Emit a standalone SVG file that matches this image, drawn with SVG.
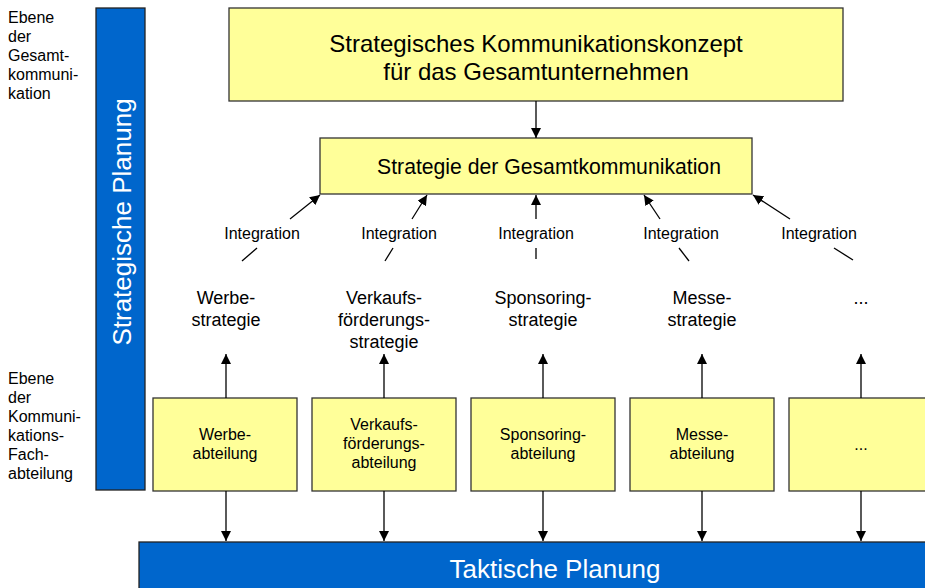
<svg xmlns="http://www.w3.org/2000/svg" width="925" height="588" viewBox="0 0 925 588">
<defs>
<style>
text{font-family:"Liberation Sans",Arial,sans-serif;fill:#000}
.y{fill:#FFFF99;stroke:#333;stroke-width:1.3}
.b{fill:#0066CC;stroke:#222;stroke-width:1.3}
.c{stroke:#000;stroke-width:1.3;fill:none}
.ca{stroke:#000;stroke-width:1.3;fill:none;marker-end:url(#ah)}
.lbl{font-size:16px}
.int{font-size:16px;text-anchor:middle}
.st{font-size:18px;text-anchor:middle}
.dp{font-size:16px;text-anchor:middle}
.w{fill:#fff;font-size:26px;text-anchor:middle}
</style>
<marker id="ah" viewBox="0 0 10 10" refX="10" refY="5" markerWidth="10" markerHeight="10" markerUnits="userSpaceOnUse" orient="auto">
<path d="M0,0 L10,5 L0,10 z" fill="#000"/>
</marker>
</defs>
<rect width="925" height="588" fill="#fff"/>

<g id="label-gesamt">
<text class="lbl" x="8" y="23">Ebene</text>
<text class="lbl" x="8" y="42">der</text>
<text class="lbl" x="8" y="61">Gesamt-</text>
<text class="lbl" x="8" y="80">kommuni-</text>
<text class="lbl" x="8" y="99">kation</text>
</g>
<g id="label-fach">
<text class="lbl" x="8" y="384">Ebene</text>
<text class="lbl" x="8" y="403">der</text>
<text class="lbl" x="8" y="422">Kommuni-</text>
<text class="lbl" x="8" y="441">kations-</text>
<text class="lbl" x="8" y="460">Fach-</text>
<text class="lbl" x="8" y="479">abteilung</text>
</g>

<g id="strategische-planung">
<rect class="b" x="96" y="8" width="49" height="482"/>
<text class="w" transform="translate(131,222) rotate(-90)">Strategische Planung</text>
</g>

<g id="taktische-planung">
<rect class="b" x="139" y="542" width="800" height="60"/>
<text class="w" x="555" y="578">Taktische Planung</text>
</g>

<g id="konzept">
<rect class="y" x="229" y="8" width="614" height="93"/>
<text x="536" y="52" font-size="24" text-anchor="middle">Strategisches Kommunikationskonzept</text>
<text x="536" y="80" font-size="24" text-anchor="middle">für das Gesamtunternehmen</text>
</g>

<g id="gesamtstrategie">
<rect class="y" x="320" y="138" width="432" height="56"/>
<text x="549" y="174" font-size="21.2" text-anchor="middle">Strategie der Gesamtkommunikation</text>
</g>

<g id="integration-labels">
<text class="int" x="262" y="239">Integration</text>
<text class="int" x="399" y="239">Integration</text>
<text class="int" x="536" y="239">Integration</text>
<text class="int" x="681" y="239">Integration</text>
<text class="int" x="819" y="239">Integration</text>
</g>

<g id="strategie-werbe"><text class="st" x="226" y="304">Werbe-</text><text class="st" x="226" y="326">strategie</text></g>
<g id="strategie-vkf"><text class="st" x="384" y="304">Verkaufs-</text><text class="st" x="384" y="326">förderungs-</text><text class="st" x="384" y="348">strategie</text></g>
<g id="strategie-sponsoring"><text class="st" x="543" y="304">Sponsoring-</text><text class="st" x="543" y="326">strategie</text></g>
<g id="strategie-messe"><text class="st" x="702" y="304">Messe-</text><text class="st" x="702" y="326">strategie</text></g>
<g id="strategie-etc"><text class="st" x="861" y="304">...</text></g>

<g id="abt-werbe"><rect class="y" x="153" y="398" width="144" height="93"/><text class="dp" x="225" y="440">Werbe-</text><text class="dp" x="225" y="459">abteilung</text></g>
<g id="abt-vkf"><rect class="y" x="312" y="398" width="144" height="93"/><text class="dp" x="384" y="430">Verkaufs-</text><text class="dp" x="384" y="449">förderungs-</text><text class="dp" x="384" y="468">abteilung</text></g>
<g id="abt-sponsoring"><rect class="y" x="471" y="398" width="144" height="93"/><text class="dp" x="543" y="440">Sponsoring-</text><text class="dp" x="543" y="459">abteilung</text></g>
<g id="abt-messe"><rect class="y" x="630" y="398" width="144" height="93"/><text class="dp" x="702" y="440">Messe-</text><text class="dp" x="702" y="459">abteilung</text></g>
<g id="abt-etc"><rect class="y" x="789" y="398" width="144" height="93"/><text class="dp" x="861" y="450">...</text></g>

<g id="connectors">
<line class="ca" x1="536" y1="101" x2="536" y2="138"/>
<line class="ca" x1="290" y1="219" x2="320" y2="195"/>
<line class="ca" x1="412" y1="219" x2="427" y2="195"/>
<line class="ca" x1="536" y1="219" x2="536" y2="195"/>
<line class="ca" x1="660" y1="219" x2="644" y2="195"/>
<line class="ca" x1="790" y1="219" x2="753" y2="195"/>
<line class="c" x1="242" y1="261" x2="257" y2="248"/>
<line class="c" x1="385" y1="261" x2="393" y2="248"/>
<line class="c" x1="536" y1="248" x2="536" y2="259"/>
<line class="c" x1="679" y1="248" x2="689" y2="261"/>
<line class="c" x1="834" y1="248" x2="853" y2="260"/>
<line class="ca" x1="226" y1="398" x2="226" y2="354"/>
<line class="ca" x1="384" y1="398" x2="384" y2="354"/>
<line class="ca" x1="543" y1="398" x2="543" y2="354"/>
<line class="ca" x1="702" y1="398" x2="702" y2="354"/>
<line class="ca" x1="861" y1="398" x2="861" y2="354"/>
<line class="ca" x1="226" y1="491" x2="226" y2="541"/>
<line class="ca" x1="384" y1="491" x2="384" y2="541"/>
<line class="ca" x1="543" y1="491" x2="543" y2="541"/>
<line class="ca" x1="702" y1="491" x2="702" y2="541"/>
<line class="ca" x1="861" y1="491" x2="861" y2="541"/>
</g>
</svg>
